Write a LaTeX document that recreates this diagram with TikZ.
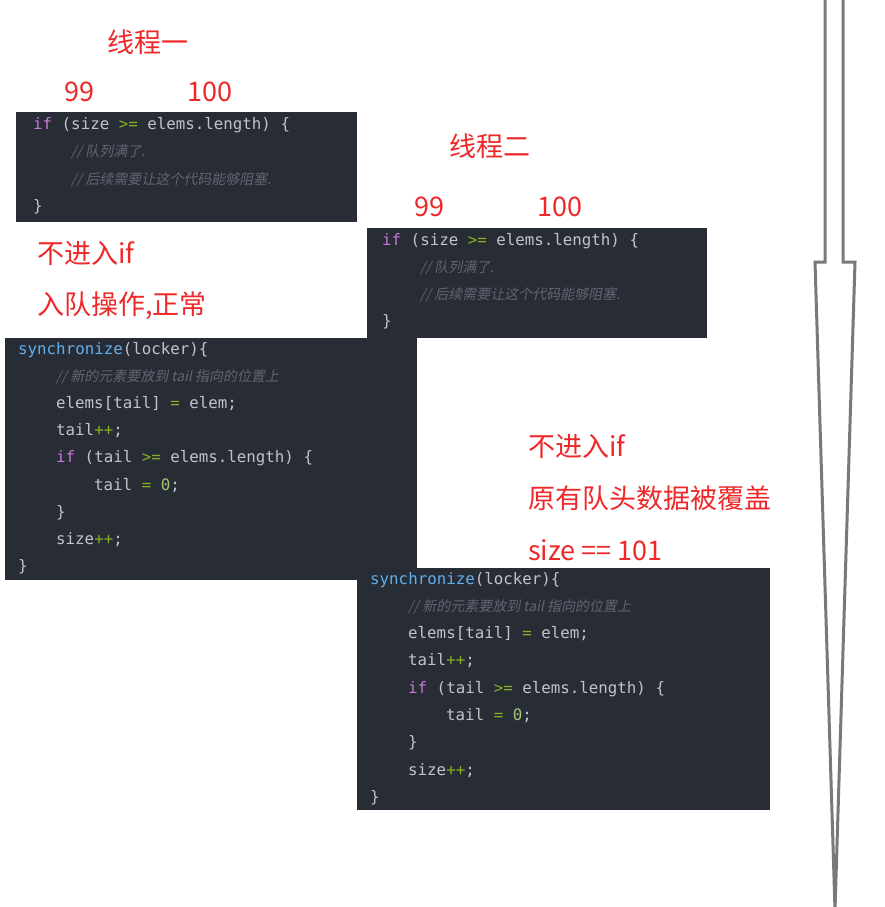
\documentclass[tikz,border=0pt]{standalone}
\usepackage{fontspec}
\setmonofont{DejaVu Sans Mono}
\newfontfamily\cjk{Noto Sans CJK SC}
\newfontfamily\cjkit[FakeSlant=0.2]{Noto Sans CJK SC}
\definecolor{bg}{RGB}{40,44,52}
\definecolor{fg}{RGB}{190,196,206}
\definecolor{kw}{RGB}{198,120,221}
\definecolor{opc}{RGB}{135,175,40}
\definecolor{num}{RGB}{160,200,120}
\definecolor{fn}{RGB}{97,175,239}
\definecolor{cmc}{RGB}{95,101,115}
\definecolor{red1}{RGB}{238,40,40}
\newcommand{\kw}[1]{\textcolor{kw}{#1}}
\newcommand{\opr}[1]{\textcolor{opc}{#1}}
\newcommand{\numc}[1]{\textcolor{num}{#1}}
\newcommand{\fnc}[1]{\textcolor{fn}{#1}}
\newcommand{\cmt}[1]{\textcolor{cmc}{{\cjkit\fontsize{14}{16}\selectfont #1}}}
\begin{document}
\begin{tikzpicture}[x=1pt,y=-1pt,
  code/.style={anchor=west,inner sep=0pt,text=fg,font=\ttfamily\fontsize{15.8}{18}\selectfont},
  lbl/.style={anchor=west,inner sep=0pt,text=red1,font=\cjk\fontsize{27}{30}\selectfont},
  blk/.style={fill=bg,draw=none}]
\useasboundingbox (0,0) rectangle (885,907);
% block A
\fill[bg] (16,112) rectangle (357,222);
\node[code] (a1) at (33,125) {\kw{if} (size \opr{>=} elems.length) \{};
\node[code] (a2) at (71,152) {\cmt{// 队列满了.}};
\node[code] (a3) at (71,180) {\cmt{// 后续需要让这个代码能够阻塞.}};
\node[code] (a4) at (33,207) {\}};
% block B
\fill[bg] (367,228) rectangle (707,338);
\node[code] (b1) at (382,241) {\kw{if} (size \opr{>=} elems.length) \{};
\node[code] (b2) at (420,268) {\cmt{// 队列满了.}};
\node[code] (b3) at (420,295) {\cmt{// 后续需要让这个代码能够阻塞.}};
\node[code] (b4) at (382,322) {\}};
% block C
\fill[bg] (5,338) rectangle (417,580);
\node[code] (c1) at (18,350) {\fnc{synchronize}(locker)\{};
\node[code] (c2) at (56,377) {\cmt{// 新的元素要放到 tail 指向的位置上}};
\node[code] (c3) at (56,404) {elems[tail] \opr{=} elem;};
\node[code] (c4) at (56,431) {tail\opr{++};};
\node[code] (c5) at (56,458) {\kw{if} (tail \opr{>=} elems.length) \{};
\node[code] (c6) at (94,486) {tail \opr{=} \numc{0};};
\node[code] (c7) at (56,513) {\}};
\node[code] (c8) at (56,540) {size\opr{++};};
\node[code] (c9) at (18,567) {\}};
% block D
\fill[bg] (357,568) rectangle (770,810);
\node[code] (d1) at (370,580) {\fnc{synchronize}(locker)\{};
\node[code] (d2) at (408,607) {\cmt{// 新的元素要放到 tail 指向的位置上}};
\node[code] (d3) at (408,634) {elems[tail] \opr{=} elem;};
\node[code] (d4) at (408,661) {tail\opr{++};};
\node[code] (d5) at (408,689) {\kw{if} (tail \opr{>=} elems.length) \{};
\node[code] (d6) at (446,716) {tail \opr{=} \numc{0};};
\node[code] (d7) at (408,743) {\}};
\node[code] (d8) at (408,771) {size\opr{++};};
\node[code] (d9) at (370,798) {\}};
% red labels
\node[lbl] (t1) at (107,42) {线程一};
\node[lbl] (n1) at (64,92) {99};
\node[lbl] (n2) at (187,92) {100};
\node[lbl] (t2) at (449,146) {线程二};
\node[lbl] (n3) at (414,207) {99};
\node[lbl] (n4) at (537,207) {100};
\node[lbl] (l1) at (37,253) {不进入if};
\node[lbl] (l2) at (37,306) {入队操作,正常};
\node[lbl] (l3) at (528,446) {不进入if};
\node[lbl] (l4) at (528,498) {原有队头数据被覆盖};
\node[lbl] (l5) at (528,550) {size == 101};
% arrow
\draw[draw=gray!95!black,line width=3,fill=white,line join=miter]
  (825,-5) -- (825,262) -- (815,262) -- (835,910) -- (855,262) -- (843,262) -- (843,-5);
\end{tikzpicture}
\end{document}
